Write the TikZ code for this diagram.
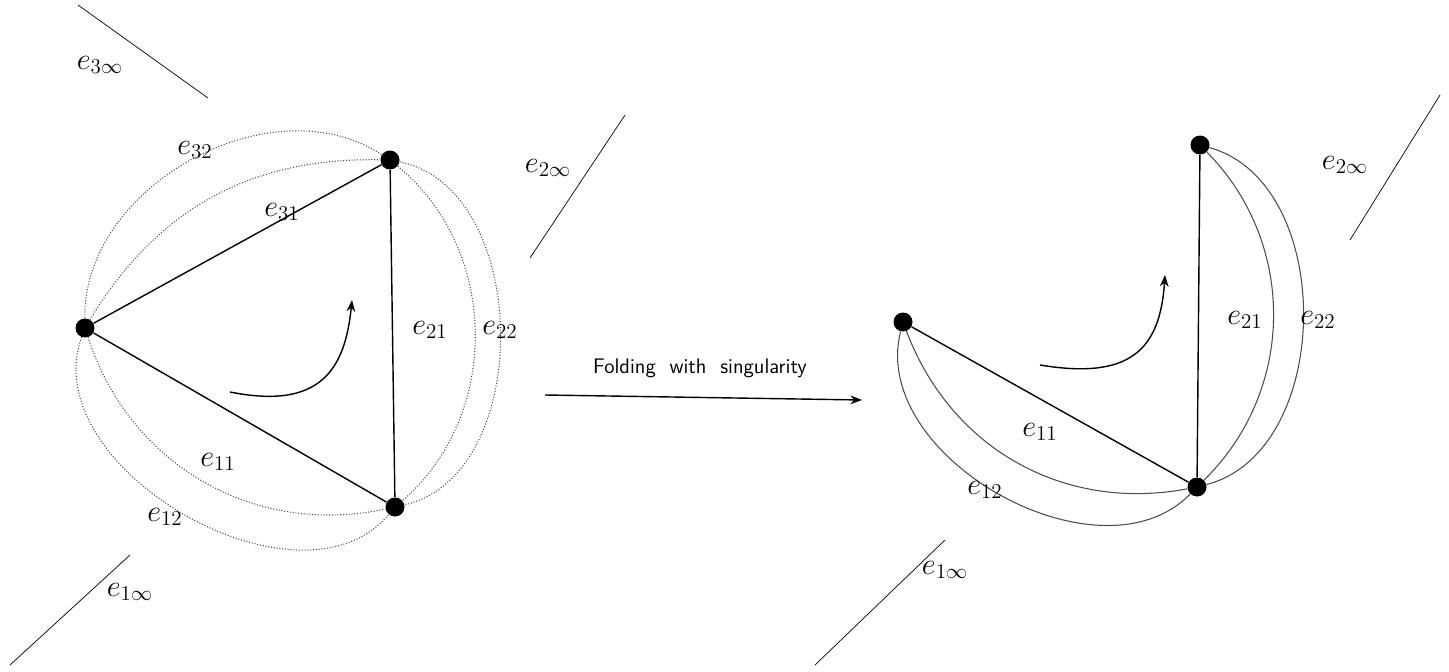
\documentclass[tikz,border=0pt]{standalone}
\usepackage{tikz}
\usetikzlibrary{arrows.meta,positioning}

\begin{document}
\begin{tikzpicture}[
  x=0.02cm, y=-0.02cm,
  vtx/.style={circle, fill=black, inner sep=0pt, minimum size=0.38cm},
  edge/.style={thick},
  dotarc/.style={densely dotted, semithick, gray!60!black},
  thinarc/.style={semithick, gray!60!black},
  lbl/.style={font=\LARGE},
  >=Stealth
]
\useasboundingbox (0,0) rectangle (1449,672);

% Left graph
\node[vtx] (a) at (390,160) {};
\node[vtx] (b) at (85,328) {};
\node[vtx] (c) at (395,507) {};
\draw[edge] (b) -- (a);
\draw[edge] (a) -- (c);
\draw[edge] (b) -- (c);
\draw[dotarc] (b) to[bend left=30] (a);
\draw[dotarc] (b) to[bend left=62] (a);
\draw[dotarc] (a) to[bend left=50] (c);
\draw[dotarc] (a) to[bend left=78] (c);
\draw[dotarc] (b) to[bend right=42] (c);
\draw[dotarc] (b) to[bend right=80] (c);

\coordinate (l3s) at (78,5);   \coordinate (l3e) at (208,98);
\coordinate (l2s) at (625,115); \coordinate (l2e) at (530,258);
\coordinate (l1s) at (130,555); \coordinate (l1e) at (10,665);
\draw (l3s) -- (l3e);
\draw (l2s) -- (l2e);
\draw (l1s) -- (l1e);

\coordinate (lc1) at (230,392);
\coordinate (lc2) at (352,300);
\draw[->, thick] (lc1) .. controls (320,410) and (345,370) .. (lc2);

\node[lbl] (l3inf) at (100,65) {$e_{3\infty}$};
\node[lbl] (l32) at (195,150) {$e_{32}$};
\node[lbl] (l31) at (282,212) {$e_{31}$};
\node[lbl] (l21) at (430,330) {$e_{21}$};
\node[lbl] (l22) at (500,330) {$e_{22}$};
\node[lbl] (l2inf) at (548,168) {$e_{2\infty}$};
\node[lbl] (l11) at (218,462) {$e_{11}$};
\node[lbl] (l12) at (165,517) {$e_{12}$};
\node[lbl] (l1inf) at (130,592) {$e_{1\infty}$};

% Folding arrow
\coordinate (fs) at (545,395);
\coordinate (fe) at (862,400);
\draw[->, thick] (fs) -- (fe);
\node[font=\sffamily\large] (fold) at (700,368) {Folding\ \ with\ \ singularity};

% Right graph
\node[vtx] (d) at (1200,145) {};
\node[vtx] (e) at (903,322) {};
\node[vtx] (f) at (1197,487) {};
\draw[edge] (d) -- (f);
\draw[edge] (e) -- (f);
\draw[thinarc] (d) to[bend left=45] (f);
\draw[thinarc] (d) to[bend left=75] (f);
\draw[thinarc] (e) to[bend right=40] (f);
\draw[thinarc] (e) to[bend right=75] (f);

\coordinate (r2s) at (1440,95);  \coordinate (r2e) at (1350,240);
\coordinate (r1s) at (945,540);  \coordinate (r1e) at (815,665);
\draw (r2s) -- (r2e);
\draw (r1s) -- (r1e);

\coordinate (rc1) at (1040,365);
\coordinate (rc2) at (1165,275);
\draw[->, thick] (rc1) .. controls (1130,380) and (1160,350) .. (rc2);

\node[lbl] (r21) at (1245,320) {$e_{21}$};
\node[lbl] (r22) at (1318,320) {$e_{22}$};
\node[lbl] (r2inf) at (1345,165) {$e_{2\infty}$};
\node[lbl] (r11) at (1040,432) {$e_{11}$};
\node[lbl] (r12) at (985,490) {$e_{12}$};
\node[lbl] (r1inf) at (945,570) {$e_{1\infty}$};

\end{tikzpicture}
\end{document}
